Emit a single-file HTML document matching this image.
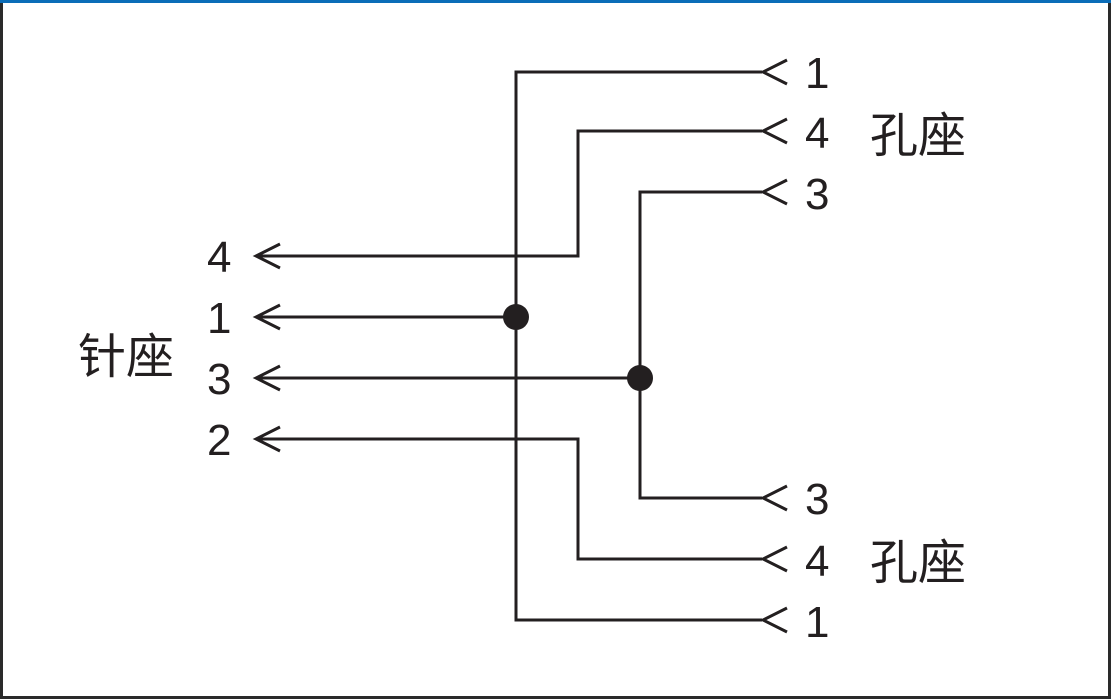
<!DOCTYPE html>
<html><head><meta charset="utf-8"><style>
html,body{margin:0;padding:0;background:#fff;}
svg{display:block;}
text{font-family:"Liberation Sans","Noto Sans CJK SC",sans-serif;fill:#231f20;}
</style></head><body>
<svg width="1111" height="699" viewBox="0 0 1111 699" xmlns="http://www.w3.org/2000/svg">
<rect x="0" y="0" width="1111" height="699" fill="#fff"/>
<rect x="0" y="0" width="3" height="699" fill="#2a2a2a"/>
<rect x="1108" y="0" width="3" height="699" fill="#2a2a2a"/>
<rect x="0" y="696" width="1111" height="3" fill="#2a2a2a"/>
<rect x="0" y="0" width="1111" height="3" fill="#0b6db8"/>
<g stroke="#231f20" stroke-width="3" fill="none">
<polyline points="762,72 516,72 516,620 762,620"/>
<polyline points="762,131 578,131 578,256 257,256"/>
<polyline points="762,192 640,192 640,498 762,498"/>
<polyline points="257,439 578,439 578,559 762,559"/>
<line x1="257" y1="317" x2="516" y2="317"/>
<line x1="257" y1="378" x2="640" y2="378"/>
<polyline points="787,60 763,72 787,84"/>
<polyline points="787,119 763,131 787,143"/>
<polyline points="787,180 763,192 787,204"/>
<polyline points="787,486 763,498 787,510"/>
<polyline points="787,547 763,559 787,571"/>
<polyline points="787,608 763,620 787,632"/>
<polyline points="280,244 256,256 280,268"/>
<polyline points="280,305 256,317 280,329"/>
<polyline points="280,366 256,378 280,390"/>
<polyline points="280,427 256,439 280,451"/>
</g>
<circle cx="516" cy="317" r="13" fill="#231f20"/>
<circle cx="640" cy="378" r="13" fill="#231f20"/>
<g font-size="44">
<text x="805" y="88">1</text>
<text x="805" y="148">4</text>
<text x="805" y="209">3</text>
<text x="805" y="514">3</text>
<text x="805" y="576">4</text>
<text x="805" y="637">1</text>
<text x="207" y="272">4</text>
<text x="207" y="333">1</text>
<text x="207" y="394">3</text>
<text x="207" y="455">2</text>
</g>
<g font-size="48">
<text x="870" y="152">孔座</text>
<text x="870" y="579">孔座</text>
<text x="78" y="373">针座</text>
</g>
</svg>
</body></html>
